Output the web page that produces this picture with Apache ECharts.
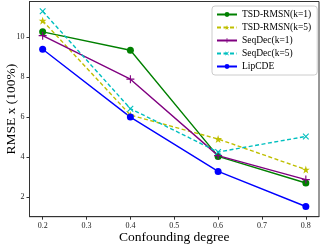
<!DOCTYPE html>
<html><head><meta charset="utf-8">
<script src="https://cdn.jsdelivr.net/npm/echarts@6/dist/echarts.min.js"></script>
<style>html,body{margin:0;padding:0;background:#fff}#c{width:321px;height:245px}</style>
</head><body><div id="c"></div>
<script>
const xValues = [0.2, 0.4, 0.6, 0.8];
const xTicks = [0.2, 0.3, 0.4, 0.5, 0.6, 0.7, 0.8];
const yTicks = [2, 4, 6, 8, 10];
const seriesNames = ['TSD-RMSN(k=1)', 'TSD-RMSN(k=5)', 'SeqDec(k=1)', 'SeqDec(k=5)', 'LipCDE'];
const tsdK1 = [10.27, 9.35, 4.03, 2.70];
const tsdK5 = [10.83, 6.10, 4.90, 3.37];
const seqK1 = [10.08, 7.90, 4.07, 2.87];
const seqK5 = [11.30, 6.42, 4.25, 5.03];
const lipCDE = [9.40, 6.00, 3.28, 1.52];

const font = 'Liberation Serif';
const plus = 'path://M4.3,0H5.7V10H4.3ZM0,4.3H10V5.7H0Z';
const star = 'path://M10,0L12.245,6.91L19.51,6.91L13.63,11.18L15.88,18.09L10,13.82L4.12,18.09L6.37,11.18L0.49,6.91L7.755,6.91Z';
function mk(name, vals, color, symbol, size, dashed, rot) {
  return {
    name, type: 'line', data: xValues.map((x, i) => [x, vals[i]]),
    symbol, symbolSize: size, symbolRotate: rot || 0,
    lineStyle: {color, width: 1.4, type: dashed ? [4, 2.5] : 'solid'},
    itemStyle: {color},
    animation: false
  };
}
const chart = echarts.init(document.getElementById('c'), null, {renderer: 'canvas'});
chart.setOption({
  animation: false,
  grid: {left: 29.5, right: 2, top: 1.5, bottom: 28.3, outerBoundsMode: 'none', containLabel: false,
    show: true, borderColor: '#333', borderWidth: 1},
  xAxis: {
    type: 'value', min: 0.17, max: 0.83,
    name: 'Confounding degree', nameLocation: 'middle', nameGap: 14, nameMoveOverlap: false,
    nameTextStyle: {fontFamily: font, fontSize: 13.5, color: '#000', verticalAlign: 'top'},
    axisLine: {show: true, lineStyle: {color: '#333', width: 1}},
    axisTick: {show: true, length: 3, inside: false, customValues: xTicks, lineStyle: {color: '#333'}},
    axisLabel: {customValues: xTicks, fontFamily: font, fontSize: 8, color: '#222', margin: 5,
      formatter: v => v.toFixed(1)},
    splitLine: {show: false}
  },
  yAxis: {
    type: 'value', min: 1.01, max: 11.79,
    name: 'RMSE x (100%)', nameLocation: 'middle', nameGap: 11, nameRotate: 90, nameMoveOverlap: false,
    nameTextStyle: {fontFamily: font, fontSize: 13.5, color: '#000'},
    axisLine: {show: true, lineStyle: {color: '#333', width: 1}},
    axisTick: {show: true, length: 3, customValues: yTicks, lineStyle: {color: '#333'}},
    axisLabel: {customValues: yTicks, fontFamily: font, fontSize: 8, color: '#222', margin: 5},
    splitLine: {show: false}
  },
  legend: {
    orient: 'vertical', left: 212, top: 6,
    itemWidth: 20, itemHeight: 6, itemGap: 3, padding: [3.5, 6, 3.5, 4],
    backgroundColor: '#fff', borderColor: '#ccc', borderWidth: 1, borderRadius: 3,
    textStyle: {fontFamily: font, fontSize: 9.5, color: '#000'},
    data: seriesNames
  },
  series: [
    mk(seriesNames[0], tsdK1, '#008000', 'circle', 7, false),
    mk(seriesNames[1], tsdK5, '#bfbf00', star, 8, true),
    mk(seriesNames[2], seqK1, '#800080', plus, 8, false),
    mk(seriesNames[3], seqK5, '#00bfbf', plus, 8, true, 45),
    mk(seriesNames[4], lipCDE, '#0000ff', 'circle', 7, false)
  ]
});
</script></body></html>
